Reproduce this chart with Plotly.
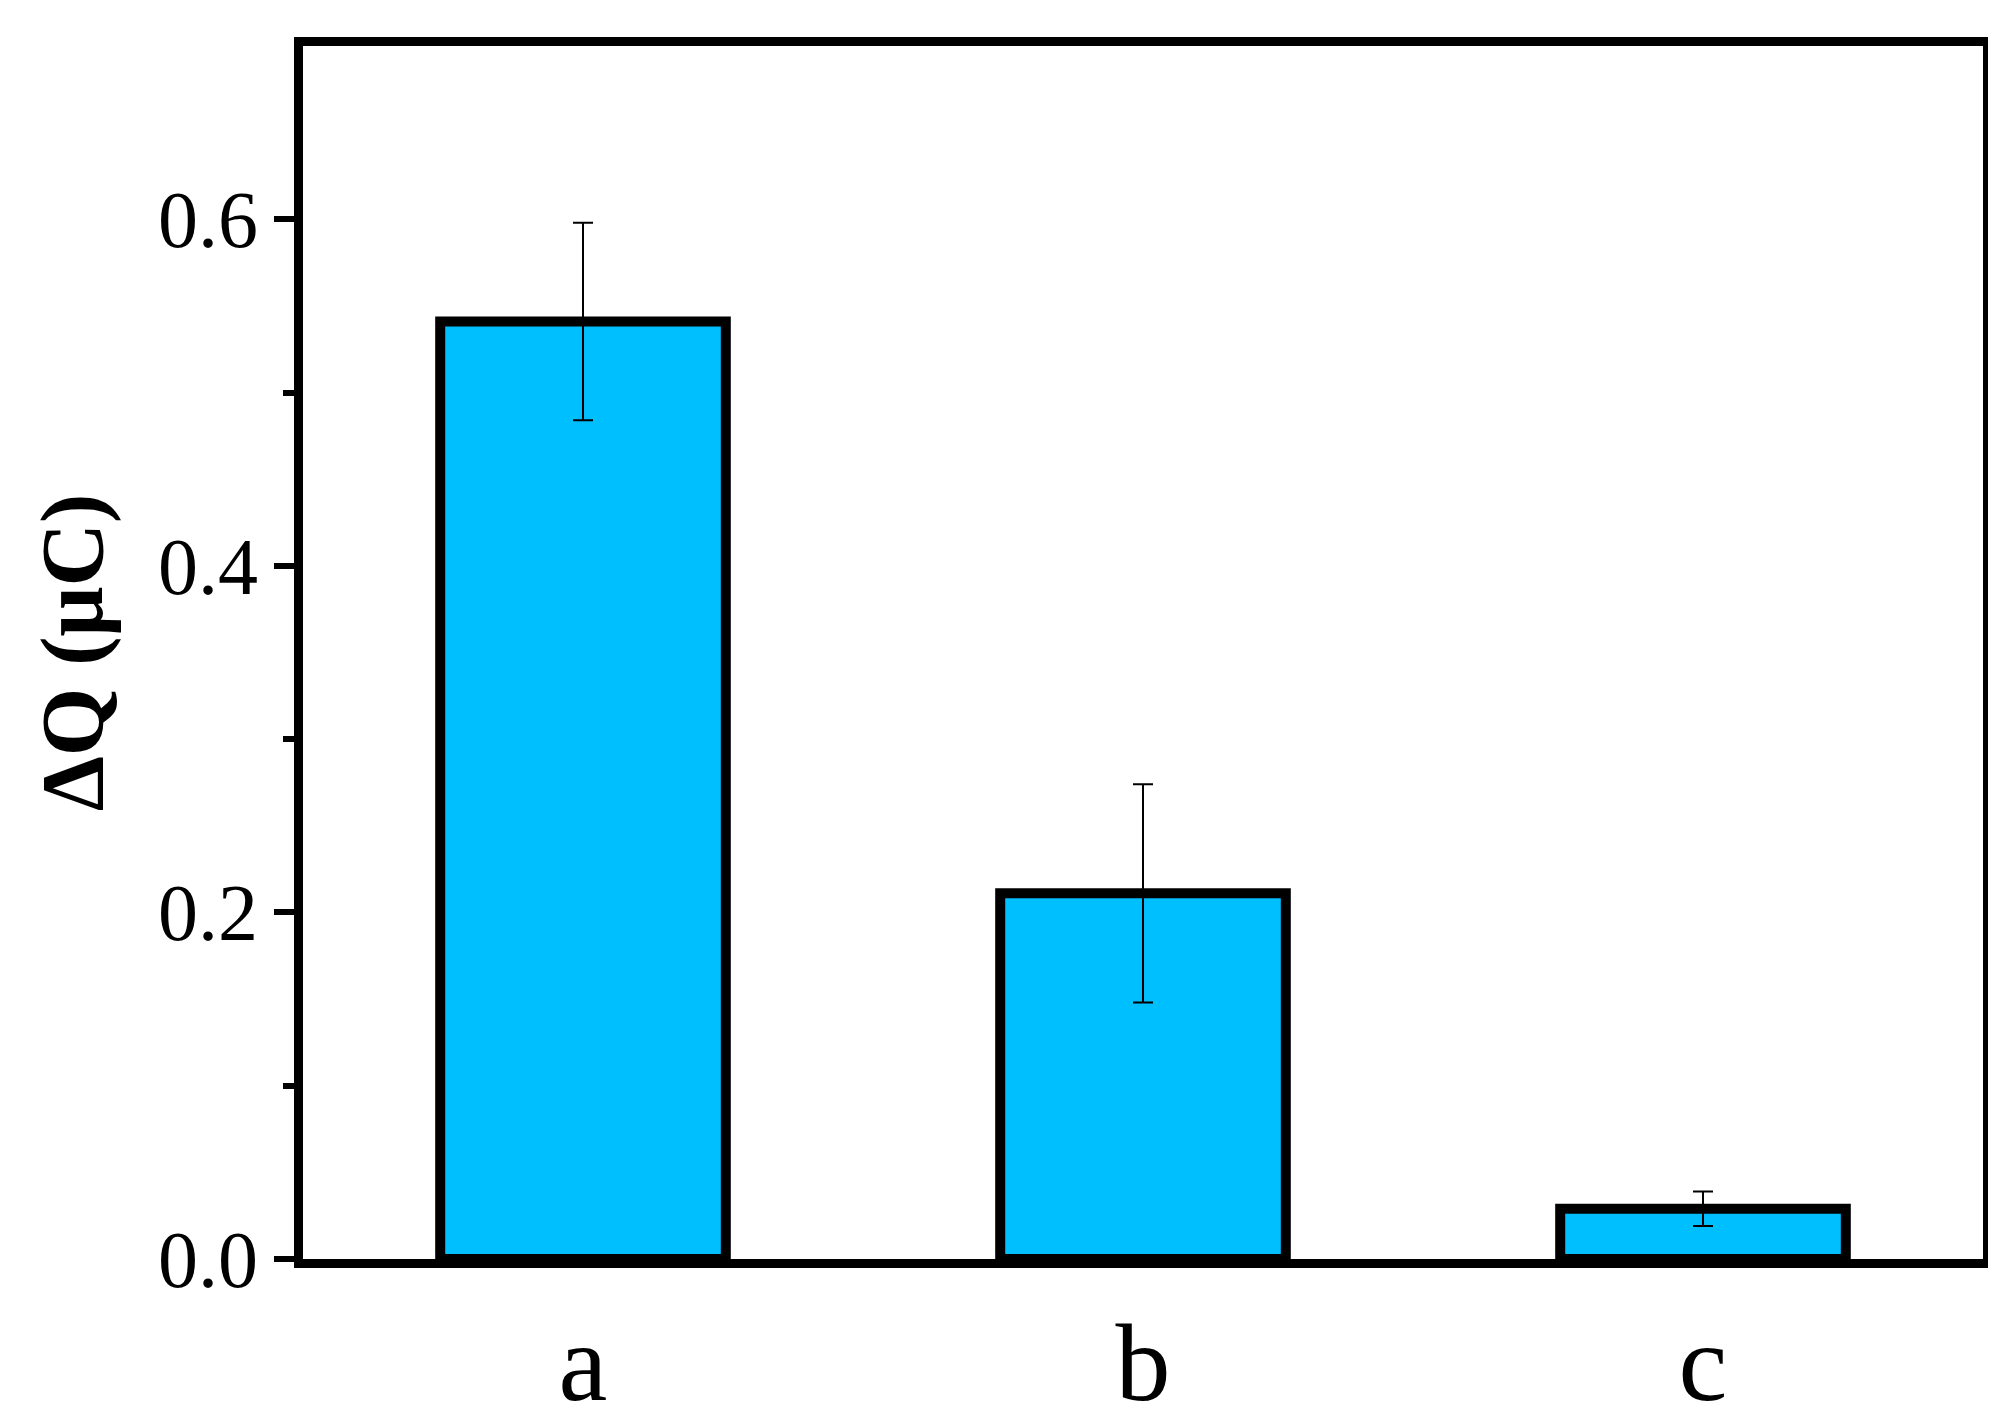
import plotly.graph_objects as go

categories = ["a", "b", "c"]
values = [0.541, 0.211, 0.029]
errors = [0.057, 0.063, 0.010]

fig = go.Figure(go.Bar(
    x=categories, y=values, width=0.51,
    marker=dict(color="#00BFFF", line=dict(color="black", width=10)),
    error_y=dict(type="data", array=errors, color="black", thickness=2, width=10),
))
fig.update_layout(
    width=1996, height=1428, plot_bgcolor="white", paper_bgcolor="white",
    margin=dict(l=295, r=16, t=38, b=149), showlegend=False,
    font=dict(family="Liberation Serif", color="black"),
)
fig.update_xaxes(range=[-0.5, 2.5], showline=True, linecolor="black", linewidth=9, mirror=True,
                 ticks="", tickfont=dict(size=110, color="black"))
fig.update_yaxes(range=[0, 0.7], tickvals=[0, 0.2, 0.4, 0.6], ticktext=["0.0", "0.2", "0.4", "0.6"],
                 showline=True, linecolor="black", linewidth=9, mirror=True, showgrid=False, zeroline=False,
                 ticks="outside", ticklen=20, tickwidth=6, tickcolor="black",
                 tickfont=dict(size=80, color="black"),
                 minor=dict(tickvals=[0.1, 0.3, 0.5], ticks="outside", ticklen=11, tickwidth=6, tickcolor="black"),
                 title=dict(text="<b>ΔQ (μC)</b>", font=dict(size=88, family="Liberation Serif", color="black"), standoff=30))
fig.write_html("out.html")
